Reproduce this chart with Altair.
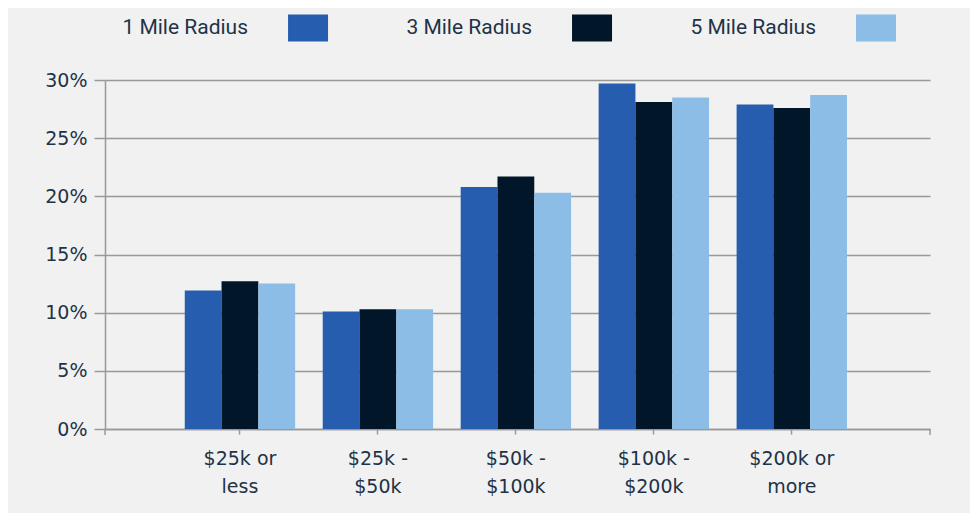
import altair as alt
import pandas as pd

categories = ["$25k or less", "$25k - $50k", "$50k - $100k", "$100k - $200k", "$200k or more"]
series = ["1 Mile Radius", "3 Mile Radius", "5 Mile Radius"]
colors = ["#265dae", "#011628", "#8bbde6"]
one_mile = [11.9, 10.1, 20.8, 29.7, 27.9]
three_mile = [12.7, 10.3, 21.7, 28.1, 27.6]
five_mile = [12.5, 10.3, 20.3, 28.5, 28.7]
y_ticks = [0, 0.05, 0.10, 0.15, 0.20, 0.25, 0.30]

rows = []
for s, vals in zip(series, [one_mile, three_mile, five_mile]):
    for c, v in zip(categories, vals):
        rows.append({"category": c, "series": s, "value": v / 100})
df = pd.DataFrame(rows)
legend_df = pd.DataFrame({"series": series})
edge_df = pd.DataFrame({"edge": [0, 1]})

W, H = 825, 349
TEXT = "#1f3347"
GRID = "#999999"

color_enc = alt.Color("series:N", sort=series,
                      scale=alt.Scale(domain=series, range=colors), legend=None)

bars = alt.Chart(df).mark_bar().encode(
    x=alt.X("category:N", sort=categories, title=None,
            scale=alt.Scale(paddingInner=0.2, paddingOuter=0.59, align=0.49),
            axis=alt.Axis(labelAngle=0, labelFont="DejaVu Sans", labelFontSize=19,
                          labelColor=TEXT, labelPadding=15, labelLineHeight=28,
                          labelExpr="[slice(datum.label, 0, lastindexof(datum.label, ' ')), slice(datum.label, lastindexof(datum.label, ' ') + 1)]",
                          tickSize=5, tickColor=GRID, tickWidth=1.5,
                          domainColor=GRID, domainWidth=1.5, grid=False)),
    xOffset=alt.XOffset("series:N", sort=series,
                        scale=alt.Scale(paddingInner=0, paddingOuter=0)),
    y=alt.Y("value:Q", title=None,
            scale=alt.Scale(domain=[0, 0.3], nice=False),
            axis=alt.Axis(values=y_ticks, format=".0%", labelFont="DejaVu Sans",
                          labelFontSize=19, labelColor=TEXT, labelPadding=7,
                          tickSize=11, tickColor=GRID, tickWidth=1.5,
                          domainColor=GRID, domainWidth=1.5,
                          grid=True, gridColor=GRID, gridWidth=1.5)),
    color=color_enc,
)

edges = alt.Chart(edge_df).mark_rule(color=GRID, strokeWidth=1.5).encode(
    x=alt.X("edge:Q", scale=alt.Scale(domain=[0, 1]), axis=None),
    y=alt.value(H),
    y2=alt.value(H + 6),
)

legend_x = alt.X("series:N", sort=series, axis=None,
                 scale=alt.Scale(type="point", domain=series, padding=0.4525, align=0.79))

swatches = alt.Chart(legend_df).mark_point(
    shape="M-1,-0.675L1,-0.675L1,0.675L-1,0.675Z", size=1600,
    filled=True, opacity=1, strokeWidth=0,
).encode(x=legend_x, y=alt.value(-52), color=color_enc)

labels = alt.Chart(legend_df).mark_text(
    align="right", baseline="middle", dx=-60, font="Roboto", fontSize=21, color=TEXT,
).encode(x=legend_x, y=alt.value(-52), text="series:N")

chart = alt.layer(bars, edges, swatches, labels).resolve_scale(
    x="independent"
).properties(
    width=W, height=H, background="#f1f1f1",
    autosize=alt.AutoSizeParams(type="none"),
    padding={"left": 97, "top": 72, "right": 40, "bottom": 84},
).configure_view(stroke=None)

chart.save("out.html", embed_options={"renderer": "svg", "actions": False})
